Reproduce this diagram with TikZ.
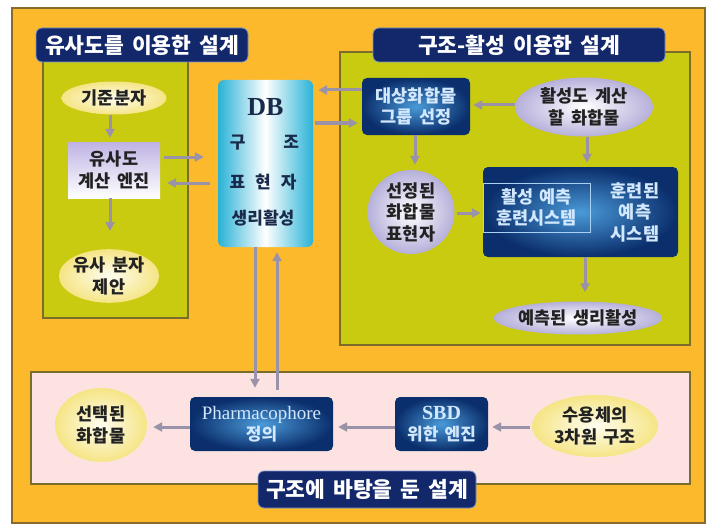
\documentclass[tikz,border=0pt]{standalone}
\usepackage{fontspec}
\newfontfamily\kr{Noto Sans CJK KR}[WordSpace=1.6]
\newfontfamily\tnr{Liberation Serif}
\usetikzlibrary{shapes.geometric,arrows.meta}
\definecolor{orangebg}{HTML}{FCB92C}
\definecolor{orangeln}{HTML}{8A6A2A}
\definecolor{greenbg}{HTML}{C8CB10}
\definecolor{greenln}{HTML}{7A6C2A}
\definecolor{pinkbg}{HTML}{FCE3E2}
\definecolor{navy}{HTML}{13286A}
\definecolor{navyln}{HTML}{7A92CC}
\definecolor{arrowc}{HTML}{9A92A8}
\definecolor{blueD}{HTML}{0B2E6C}
\definecolor{blueL}{HTML}{4A9AD8}
\definecolor{boxtxt}{HTML}{D2E8FF}
\definecolor{dbcyan}{HTML}{2AB2D6}
\definecolor{creamin}{HTML}{FFFDF0}
\definecolor{creamout}{HTML}{F5E585}
\definecolor{lavout}{HTML}{B6B0DA}
\definecolor{lavtop}{HTML}{BFB2E4}
\definecolor{dbtxt}{HTML}{1A2A4A}
\definecolor{darktxt}{HTML}{222222}
\begin{document}
\begin{tikzpicture}[x=1pt,y=-1pt,
  arr/.style={draw=arrowc, line width=3pt, -{Triangle[length=9pt,width=9pt]}},
  panel/.style={draw=greenln, line width=1.2pt, fill=greenbg},
  header/.style={draw=navyln, line width=0.8pt, fill=navy, rounded corners=6pt, text=white,
     font={\kr\bfseries\fontsize{21.5}{26}\selectfont}},
  bodyfont/.style={font={\kr\bfseries\fontsize{17.5}{21.5}\selectfont}, align=center},
  creamell/.style={ellipse, inner sep=0pt, shading=radial, inner color=creamin, outer color=creamout, text=darktxt, bodyfont},
  lavell/.style={ellipse, inner sep=0pt, shading=radial, inner color=white, outer color=lavout, text=darktxt, bodyfont},
  bluebox/.style={rectangle, rounded corners=5pt, inner sep=0pt, shading=radial, inner color=blueL, outer color=blueD, text=boxtxt, bodyfont},
  dbtext/.style={text=dbtxt, font={\kr\bfseries\fontsize{17}{20}\selectfont}, inner sep=0pt}
]
\useasboundingbox (0,0) rectangle (706,524);
\fill[white] (0,0) rectangle (706,524);
% background
\draw[fill=orangebg, draw=orangeln, line width=1.2pt] (12,8) rectangle (705,523);
% panels
\draw[panel] (43,50) rectangle (188,318);
\draw[panel] (340,52) rectangle (690,345);
\draw[draw=greenln, line width=1.2pt, fill=pinkbg] (31,372) rectangle (690,484);
% headers
\node[header, minimum width=212pt, minimum height=34pt] (h1) at (142,45) {유사도를 이용한 설계};
\node[header, minimum width=292pt, minimum height=34pt] (h2) at (519,45) {구조-활성 이용한 설계};
\node[header, minimum width=218pt, minimum height=37pt] (h3) at (367,489.5) {구조에 바탕을 둔 설계};

% left panel
\node[creamell, minimum width=105pt, minimum height=33pt] (kijun) at (114,98) {기준분자};
\node[rectangle, inner sep=0pt, top color=lavtop, bottom color=white, text=darktxt, bodyfont,
      minimum width=92pt, minimum height=56pt] (yusa) at (114,170) {유사도\\계산 엔진};
\node[creamell, minimum width=92pt, minimum height=52pt] (yusab) at (109,276) {유사 분자\\제안};

% DB
\node[rectangle, rounded corners=6pt, left color=dbcyan, right color=dbcyan, middle color=white,
      minimum width=95pt, minimum height=167pt] (db) at (265.5,163.5) {};
\node[text=dbtxt, font={\tnr\bfseries\fontsize{26}{28}\selectfont}, inner sep=0pt] (dbt1) at (265.5,107) {DB};
\node[dbtext] (dbt2) at (264.5,143) {구\hspace{38pt}조};
\node[dbtext] (dbt3) at (263,182) {표\hspace{10pt}현\hspace{10pt}자};
\node[dbtext] (dbt4) at (263,218) {생리활성};

% right panel
\node[bluebox, minimum width=108pt, minimum height=57pt] (daesang) at (416,106.5) {대상화합물\\그룹 선정};
\node[lavell, minimum width=138pt, minimum height=59pt] (hwal) at (584,107) {활성도 계산\\할 화합물};
\node[lavell, minimum width=87pt, minimum height=79pt] (seonj) at (411,212) {선정된\\화합물\\표현자};
\node[bluebox, minimum width=195pt, minimum height=90pt] (big) at (580.5,212) {};
\node[rectangle, draw=boxtxt!70!blueL, line width=0.6pt, minimum width=107pt, minimum height=49pt, inner sep=0pt,
      text=boxtxt, bodyfont] (inner) at (536.5,207.5) {활성 예측\\훈련시스템};
\node[text=boxtxt, bodyfont, inner sep=0pt] (trained) at (635,212) {훈련된\\예측\\시스템};
\node[lavell, minimum width=153pt, minimum height=33pt] (yech) at (578,318) {예측된 생리활성};

% bottom panel
\node[creamell, minimum width=92pt, minimum height=74pt] (seont) at (101,425) {선택된\\화합물};
\node[bluebox, minimum width=143pt, minimum height=54pt] (pharm) at (261.5,424)
   {{\tnr\mdseries\fontsize{19}{22}\selectfont Pharmacophore}\\{\fontsize{17}{22}\selectfont 정의}};
\node[bluebox, minimum width=93pt, minimum height=54pt] (sbd) at (441.5,424)
   {{\tnr\bfseries\fontsize{20}{22}\selectfont SBD}\\{\fontsize{17}{22}\selectfont 위한 엔진}};
\node[creamell, minimum width=126pt, minimum height=62pt] (suy) at (595,426) {수용체의\\3차원 구조};

% arrows left
\draw[arr, shorten >=4pt] (kijun.south -| 110,0) -- (yusa.north -| 110,0);
\draw[arr, shorten >=18pt] (yusa.south -| 110,0) -- (yusab.north -| 110,0);
\draw[arr, shorten <=4pt, shorten >=14pt] (yusa.east |- 0,157) -- (db.west |- 0,157);
\draw[arr, shorten <=8pt, shorten >=7pt] (db.west |- 0,183) -- (yusa.east |- 0,183);
% arrows DB <-> right
\draw[arr, shorten >=5pt] (daesang.west |- 0,90) -- (db.east |- 0,90);
\draw[arr, shorten <=2pt, shorten >=4pt] (db.east |- 0,123) -- (daesang.west |- 0,123);
% right panel arrows
\draw[arr, shorten >=3pt] (hwal.west |- 0,105) -- (daesang.east |- 0,105);
\draw[arr, shorten >=5pt] (daesang.south -| 415,0) -- (seonj.north -| 415,0);
\draw[arr, shorten >=4pt] (hwal.south -| 587,0) -- (big.north -| 587,0);
\draw[arr, shorten <=2pt, shorten >=2pt] (seonj.east |- 0,213) -- (big.west |- 0,213);
\draw[arr, shorten >=9pt] (big.south -| 585,0) -- (yech.north -| 585,0);
% DB <-> pharmacophore
\draw[arr, shorten >=9pt] (db.south -| 255,0) -- (pharm.north -| 255,0);
\draw[arr, shorten <=7pt, shorten >=5pt] (pharm.north -| 277,0) -- (db.south -| 277,0);
% bottom arrows
\draw[arr, shorten >=6pt] (pharm.west |- 0,427) -- (seont.east |- 0,427);
\draw[arr, shorten >=5pt] (sbd.west |- 0,427) -- (pharm.east |- 0,427);
\draw[arr, shorten <=2pt, shorten >=4pt] (suy.west |- 0,427) -- (sbd.east |- 0,427);
\end{tikzpicture}
\end{document}
